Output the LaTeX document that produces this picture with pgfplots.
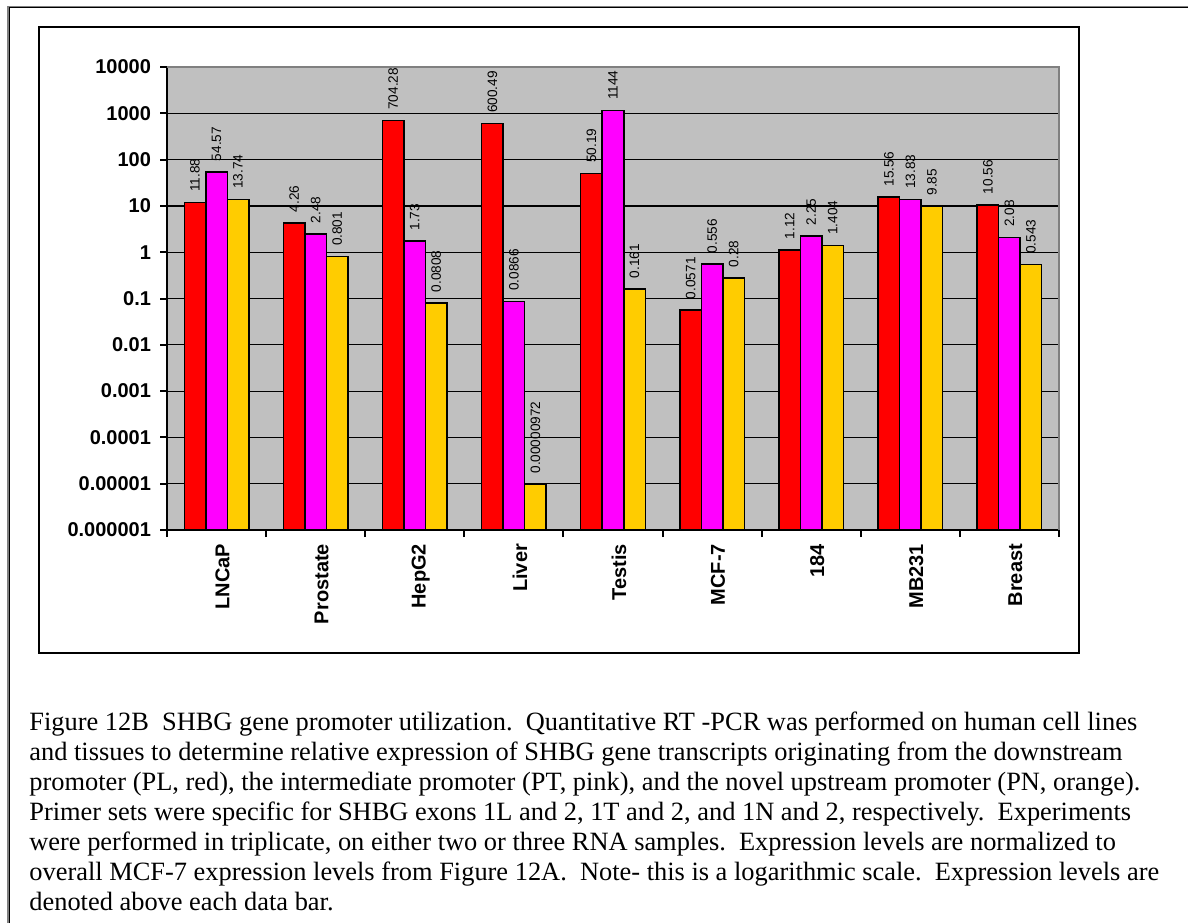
\documentclass[border=0pt]{standalone}
\usepackage{pgfplots}
\pgfplotsset{compat=1.18}
\usepackage{pgfplotstable}
\usepackage{fontspec}
\setmainfont{Liberation Serif}
\newfontfamily\arial{Liberation Sans}
\definecolor{plotbg}{HTML}{C0C0C0}
\definecolor{barred}{HTML}{FF0000}
\definecolor{barpink}{HTML}{FF00FF}
\definecolor{barorange}{HTML}{FFCC00}
\definecolor{frameg}{HTML}{808080}

\pgfplotstableread{
x  pl      pllbl   pt      ptlbl   pn          pnlbl
0  11.88   11.88   54.57   54.57   13.74       13.74
1  4.26    4.26    2.48    2.48    0.801       0.801
2  704.28  704.28  1.73    1.73    0.0808      0.0808
3  600.49  600.49  0.0866  0.0866  0.00000972  0.00000972
4  50.19   50.19   1144    1144    0.161       0.161
5  0.0571  0.0571  0.556   0.556   0.28        0.28
6  1.12    1.12    2.25    2.25    1.404       1.404
7  15.56   15.56   13.83   13.83   9.85        9.85
8  10.56   10.56   2.08    2.08    0.543       0.543
}\datatable

\begin{document}
\begin{tikzpicture}[x=1pt,y=1pt]
\useasboundingbox (0,0) rectangle (594,461.5);
\fill[white] (0,0) rectangle (594,461.5);
% outer frame (left and top)
\draw[line width=0.7pt, color=frameg] (4,0) -- (4,458.3) -- (594,458.3);
\draw[line width=0.5pt, black] (4.6,0) -- (4.6,457.6) -- (594,457.6);
% chart box
\draw[line width=1.3pt, black] (19.5,135) rectangle (539.5,448);

\begin{axis}[
  at={(83.5pt,196.5pt)}, anchor=south west,
  scale only axis, width=446pt, height=231.5pt,
  ymode=log, log origin y=infty,
  ymin=1e-6, ymax=1e4,
  xmin=-0.5, xmax=8.5,
  axis background/.style={fill=plotbg},
  axis line style={line width=1pt, black},
  ytick={1e-6,1e-5,1e-4,1e-3,1e-2,1e-1,1,10,100,1000,10000},
  yticklabels={0.000001,0.00001,0.0001,0.001,0.01,0.1,1,10,100,1000,10000},
  yminorticks=false,
  ymajorgrids, major grid style={line width=0.6pt, black},
  xtick={0,...,8},
  xticklabels={LNCaP,Prostate,HepG2,Liver,Testis,MCF-7,184,MB231,Breast},
  major x tick style={draw=none},
  minor xtick={-0.5,0.5,...,8.5},
  minor tick length=3.5pt,
  major tick length=3.5pt,
  tick align=outside,
  tick style={line width=1pt, black},
  xtick pos=bottom, ytick pos=left,
  yticklabel style={font=\arial\bfseries\fontsize{10}{12}\selectfont, anchor=east, xshift=-1pt},
  xticklabel style={font=\arial\bfseries\fontsize{10}{12}\selectfont, rotate=90, anchor=east, yshift=-3pt},
  ybar, bar width=0.217,
  point meta=explicit symbolic,
  nodes near coords,
  nodes near coords style={font=\arial\fontsize{6.8}{8}\selectfont, rotate=90, anchor=west, inner sep=0pt, xshift=5pt, text=black},
  clip=false,
]
\addplot[ybar, bar shift=-0.217, fill=barred, draw=black, line width=0.75pt] table[x=x, y=pl, meta=pllbl] {\datatable};
\addplot[ybar, bar shift=0, fill=barpink, draw=black, line width=0.75pt] table[x=x, y=pt, meta=ptlbl] {\datatable};
\addplot[ybar, bar shift=0.217, fill=barorange, draw=black, line width=0.75pt] table[x=x, y=pn, meta=pnlbl] {\datatable};
\draw[line width=1pt, color=frameg] (rel axis cs:0,1) -- (rel axis cs:1,1) -- (rel axis cs:1,0);
\end{axis}

% caption
\begin{scope}[every node/.style={anchor=base west, inner sep=0pt, font=\fontsize{13.2}{15}\selectfont}]
\node at (14.5,96.5) {Figure 12B\ \ SHBG gene promoter utilization.\ \ Quantitative RT -PCR was performed on human cell lines};
\node at (14.5,81.5) {and tissues to determine relative expression of SHBG gene transcripts originating from the downstream};
\node at (14.5,66.5) {promoter (PL, red), the intermediate promoter (PT, pink), and the novel upstream promoter (PN, orange).};
\node at (14.5,51.5) {Primer sets were specific for SHBG exons 1L and 2, 1T and 2, and 1N and 2, respectively.\ \ Experiments};
\node at (14.5,36.5) {were performed in triplicate, on either two or three RNA samples.\ \ Expression levels are normalized to};
\node at (14.5,21.5) {overall MCF-7 expression levels from Figure 12A.\ \ Note- this is a logarithmic scale.\ \ Expression levels are};
\node at (14.5,6.5) {denoted above each data bar.};
\end{scope}
\end{tikzpicture}
\end{document}
